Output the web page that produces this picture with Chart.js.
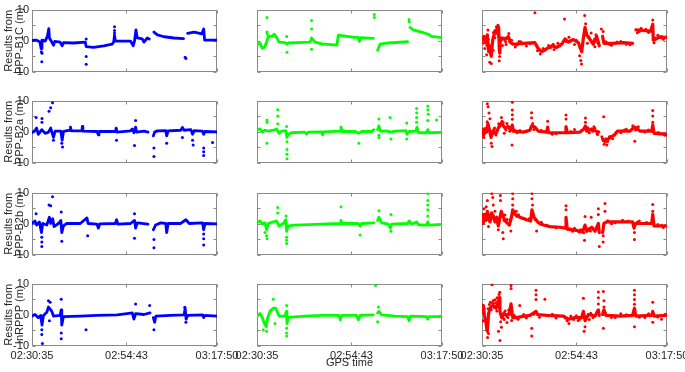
<!DOCTYPE html>
<html><head><meta charset="utf-8">
<script src="https://cdn.jsdelivr.net/npm/chart.js@4/dist/chart.umd.min.js"></script>
<style>
html,body{margin:0;padding:0;background:#fff;overflow:hidden;width:685px;height:372px;}
canvas{position:absolute;}
</style></head><body>
<script>
// ---- axis labels ----
const xTickLabels = ["02:30:35", "02:54:43", "03:17:50"];
const yTickValues = [-10, -5, 0, 5, 10];
const yTickLabels = ["-10", "", "0", "", "10"];
const rowNames = ["PPP-B1C", "PPP-B2a", "PPP-B2b", "InRPPP"];
const xTitle = "GPS time";
const seriesColors = ["#0000ff", "#00ff00", "#ff0000"];

// ---- data: x = % of session elapsed, y = error (m); null = data gap ----
// column 1 (blue)
const b1c_c1_line = [[0,0.1],[2.5,0.2],[4.3,-0.4],[4.9,-2.5],[5.4,0.2],[7.1,-0.1],[8.3,1.4],[9.1,3.9],[9.4,0.9],[10.7,-0.4],[11.6,-1.4],[12.3,-0.2],[15.2,-0.4],[16.3,-1.6],[17,-0.6],[22.5,-0.7],[28.8,-0.4],[29.3,-1.9],[33.3,-2.1],[38.8,-1.6],[43.3,-1.1],[44.2,-0.3],[44.6,1.8],[45.1,-0.1],[53.3,-0.1],[54.7,-1.6],[55.4,-0.1],[56.2,3.5],[56.9,0.9],[59.6,0.6],[60.5,-0.4],[62.3,0.9],[63.4,0.6],null,[65.9,2.8],[67.8,1.9],[71.4,1.3],[76.8,0.9],[81.9,0.7],null,[84.1,2.4],[87.7,2.8],[91.7,2.2],[92.8,3.8],[93.3,0.2],[100,0.2]];
const b1c_c1_pts = [[5.3,-6.7],[5.1,-3.5],[5.4,-4],[29.3,0.6],[29.3,-5],[29.3,-7.5],[44.6,4.5],[44.6,3.3],[44.6,2.5],[82.8,-5.3],[83.2,-5.7]];
const b2a_c1_line = [[0,-0.3],[1.6,0.4],[2.5,1.2],[3.4,-0.8],[5.3,0.7],[7.1,-0.5],[8.9,-0.1],[10.1,1.2],[11.6,-1.8],[12.5,0.2],[15.6,0.2],[16.3,-2.7],[17,0.1],[20.7,0.5],[20.8,1.5],[21.2,0.3],[27,0.3],[27.2,1.7],[27.5,0.2],[35.1,0.1],[35.9,-1],[36.2,0.1],[45.1,0.1],[45.5,1.2],[46,-0.1],[53.3,0.3],[54.2,0.9],[55.1,-0.3],[56,1.5],[56.5,-0.1],[60.5,0.2],[62.7,-0.1],null,[65.6,-1.3],[66.3,-0.1],[67.8,0.3],[72.3,0.4],[72.8,-1.3],[73.6,0.3],[80.4,0.5],[81.3,1.4],[82.2,0.5],[85.9,0.7],[86.8,-0.8],[87.7,0.4],[92.2,0.2],[92.8,-0.8],[93.5,0.1],[100,0]];
const b2a_c1_pts = [[2.2,4.6],[5.4,4.3],[5.4,3.1],[9.2,6.6],[10.1,7.7],[11.1,9.3],[11.6,-2.7],[16.1,-3.7],[16.5,-4.9],[45.7,-2.7],[55.4,-4.4],[56,3.6],[65.9,-5.2],[65.9,-7.9],[72.8,-3.7],[81.3,-1.8],[86.8,-2.7],[87.1,-4.2],[92.8,-5.2],[92.8,-6.4],[92.8,-7.6],[97.6,-3.4]];
const b2b_c1_line = [[0,0.1],[1.6,0.9],[2.5,-0.4],[4,0.6],[5.1,-2.8],[5.8,0.1],[8,-0.4],[9.4,2.1],[10.1,0.1],[11.2,1.6],[11.9,-0.9],[14.3,0.1],[15.6,1.1],[16.1,-2.8],[17,-0.7],[18.8,0.1],[26.1,0.1],[29.7,1.9],[30.3,0.1],[35.1,-0.1],[35.9,-1.4],[36.6,0],[45.1,0.1],[45.7,1.3],[46.4,-0.1],[53.3,0.1],[55.4,1.1],[56,-1.4],[56.9,0.3],[62.7,-0.1],null,[65.6,-1.9],[66.8,-0.4],[69.6,0.3],[72.3,0.1],[72.8,-2.8],[73.6,0.1],[80.4,0.1],[83.2,1.3],[85,0.1],[92.2,0.3],[92.8,-1.9],[93.5,0.1],[100,0]];
const b2b_c1_pts = [[2.2,3.2],[5.3,-4.3],[5.3,-5.8],[5.3,-7.3],[9.2,6],[10.1,5.8],[11.1,8.7],[15.8,3.8],[16.1,-5.6],[30.1,-3.8],[55.4,3.2],[55.4,-4.6],[65.9,-5],[65.9,-7.7],[92.8,-3.3],[92.8,-4.8],[92.8,-6.8]];
const inr_c1_line = [[0,-0.4],[1.6,0.1],[3.4,-0.9],[4.7,-0.2],[5.4,-3.3],[6.2,-0.2],[8,0.8],[8.9,2.5],[9.8,1.8],[10.7,1.1],[11.6,-0.4],[15.2,-0.2],[15.8,1.6],[16.1,-3.3],[17,-0.6],[26.1,-0.4],[35.1,-0.2],[46,0],[51.4,0.4],[54.2,0.6],[55.1,-1.4],[56,0.4],[60.5,0.1],[63.8,0.6],null,[65.6,-0.9],[66.3,-2.4],[67,-0.4],[75,-0.2],[82.2,0],[82.8,2.1],[83.3,-1.4],[84.1,-0.2],[92.2,0],[92.8,-0.9],[93.5,-0.2],[100,-0.4]];
const inr_c1_pts = [[5.3,-4.8],[5.3,-6.3],[5.6,-9.2],[8.9,4.5],[9.8,4],[9.4,-1.9],[15.8,5],[15.8,-5.8],[15.8,-7.7],[29.2,-4.8],[56,3.5],[63.6,3],[65.9,-4.8],[82.6,2.4],[83.2,-2.4]];
// column 2 (green)
const b1c_c2_line = [[0,-1.1],[1.6,-0.8],[2.9,-2.4],[4,-2.1],[5.2,-0.4],[6.1,1.4],[7.9,1.4],[9.4,2.1],[10.6,1.1],[11.9,-0.4],[15.1,-0.6],[16.2,-1.1],[16.9,-0.7],[28.6,-0.4],[29.5,0.9],[31.4,-0.4],[35,-1],[43.1,-1.4],[44,1.8],[47.6,1.5],[53,1.1],[54.8,1.1],[55.3,-0.2],[56.2,1],[62.9,0.8],null,[65.2,-3],[66.5,-1.1],[71,-0.7],[81.4,-0.3],null,[82.7,4.3],[84.5,3.5],[89,2.8],[92.6,2.1],[94.4,1.4],[100,1]];
const b1c_c2_pts = [[5.4,7.5],[5.4,2.8],[5.6,2.2],[16,1.4],[16.2,-3.7],[29.5,6.5],[29.5,3.8],[29.5,-2.7],[63.4,8.4],[63.4,7.5],[82.2,6.8],[82.3,6.1]];
const b2a_c2_line = [[0,0.7],[1.6,0.9],[2.9,-0.1],[4.3,0.5],[6.1,0.2],[8.8,0.5],[10.6,0.9],[11.9,-0.5],[13.3,0.2],[15.5,0.4],[16.2,-1.8],[16.9,-0.8],[18.7,-0.3],[25.9,-0.1],[26.8,-0.7],[27.7,-0.1],[34.9,0],[35.5,-1],[36,0],[44.9,0.2],[45.4,1.5],[46.1,0.1],[53,0.1],[55.1,-0.5],[56.6,0.1],[62,0.1],[63.1,0.7],null,[65.2,0.7],[65.9,1.9],[66.7,0.2],[70.1,0.3],[72.4,-0.1],[74.6,0.2],[80.4,0.4],[81.1,-0.8],[82.2,0.1],[85.8,0.2],[86.5,1.5],[87.2,-0.3],[91.7,-0.3],[92.3,0.7],[93,-0.3],[100,-0.2]];
const b2a_c2_pts = [[5.4,3.8],[5.4,3.1],[5.4,-3.7],[11.2,7.1],[11.2,5.1],[11.2,2.6],[16,1.7],[16.2,-3.2],[16.2,-5.7],[16.2,-7.2],[16.2,-8.6],[55.1,-3.7],[65.9,4.1],[65.9,-1.1],[65.9,-1.8],[71.9,4.6],[72.4,-2.3],[80.9,2.8],[80.9,-2.3],[86.3,7.5],[86.3,6.1],[86.3,4.6],[86.3,3.1],[92.3,8.3],[92.3,7.1],[92.6,5.6],[92.3,3.6],[97.1,3.8]];
const b2b_c2_line = [[0,0.5],[1.6,0.9],[2.9,-0.1],[4.3,0.3],[5.2,-1.9],[6.1,0.1],[8.8,0.6],[10.6,0.9],[11.9,-0.7],[14.2,0.1],[15.5,1.3],[16,-2.4],[16.9,-0.7],[20.5,-0.4],[31.4,-0.2],[35,-0.1],[44.9,0.1],[45.4,1.1],[46.1,0.1],[54.8,0.1],[55.7,-0.7],[56.6,0.1],[63.1,0.3],null,[65.2,1.1],[65.9,2.1],[67.4,0.3],[71,-0.1],[72.1,-1.4],[72.8,-0.1],[81.4,0.1],[82.2,0.9],[83.6,-0.1],[86.3,0.6],[87.2,-0.3],[91.7,-0.4],[92.3,0.6],[93,-0.4],[100,-0.2]];
const b2b_c2_pts = [[4.3,-2.8],[5.2,-3.8],[5.4,-4.8],[11.2,5.2],[11.2,3.5],[15.7,2.5],[16,-4.3],[16,-5.3],[16,-6.3],[45.4,5.5],[55.7,-3.6],[65.9,4.2],[72.4,3],[72.4,-2.4],[92.3,9.7],[92.3,7.5],[92.3,6],[92.3,4.5],[92.3,2.5]];
const inr_c2_line = [[0,-0.4],[1.6,0.4],[2.9,-0.9],[4,-2.8],[4.9,-3.8],[5.8,-0.9],[7,1.1],[8.8,2.1],[10.1,2.1],[11.2,0.6],[11.9,-0.4],[15.1,-0.4],[15.9,1.1],[16.2,-2.8],[16.9,-0.8],[25.9,-0.4],[35,-0.2],[44.3,-0.2],[45,-1.6],[45.8,-0.2],[53.9,-0.2],[54.8,-1.6],[55.7,-0.2],[62.9,0],null,[65.2,0.6],[65.9,1.1],[67.4,0],[74.6,-0.4],[81.4,-0.6],[82.2,-1.9],[82.9,-0.4],[91.7,-0.6],[92.3,-1.4],[93,-0.6],[100,-0.6]];
const inr_c2_pts = [[3.4,-4.8],[5.2,-5.3],[8.8,5],[9.7,-2.8],[16,3],[16,-4.3],[16,-5.8],[16,-6.8],[64.1,9.4],[65.6,2.5],[65.2,-2.2]];
// column 3 (red)
const b1c_c3_line = [[0,0.2],[1.1,1.4],[2.2,-0.6],[2.9,1.9],[3.6,-3.5],[4.3,-1.6],[5,-5],[5.8,0.4],[6.5,1.9],[7.6,3.3],[8.3,2.4],[9,4.3],[9.4,-3.5],[9.7,-0.6],[10.6,0.9],[12.4,0.4],[14.2,1.4],[15.5,-0.6],[17,-1.1],[22.3,-0.8],[28.6,-0.6],[30.4,-2.5],[32.3,-3.5],[35,-2.5],[37.7,-1.6],[40.4,-2.1],[43.1,-1.1],[44.9,0.6],[46.7,-0.4],[49.4,0.4],[52.1,-0.6],[53.9,-3.5],[54.8,0.9],[55.7,4.3],[56.6,1.9],[58.4,0.4],[60.2,-1.1],[62,1.4],[63.4,-1.6],null,[65.2,1.4],[65.9,-0.8],[71,-0.8],[76.4,-0.6],[81.4,-0.8],null,[83.2,3.5],[87.2,3.3],[91.1,3.1],[92.3,5.3],[92.6,0.2],[94.1,0.6],[96.2,1.2],[100,1.1]];
const b1c_c3_pts = [[1.5,-2.5],[2.5,-4.5],[3.2,3.5],[4.2,-6.9],[5,-7.3],[6,-3],[7,1],[7.8,4.5],[8.6,5],[9.3,-6.4],[9.5,-5],[9.6,-4],[11,-1.5],[13,-1.2],[14.5,2.3],[16,0.2],[18,-2],[20,-0.2],[24,-1.7],[28.6,9],[30,-3.2],[31.5,-4.2],[33,-2.5],[36,-1.5],[39,-2.8],[41,-0.8],[44.6,7],[47,1.1],[50,-1.2],[52.8,-4.8],[53.4,-6.3],[53.8,-7.4],[55.3,3.5],[55.5,8.1],[56,5.5],[57,-0.8],[59,2.5],[61,-1.9],[62.5,-0.3],[64.5,3.8],[65.5,3],[70,-1.4],[75,-0.2],[80,-1.3],[84,2.6],[86,4],[90,2.7],[92.3,6.7],[93,-0.6],[95,1.8],[98,0.5],
  [0.8,-0.8],[1.8,0.9],[2.6,-1.5],[3.4,0.5],[3.9,-2.3],[4.6,-4.2],[5.5,-1],[6.2,2.7],[6.9,3.2],[7.3,2.4],[8,3.8],[8.9,1.5],[10.2,0.2],[11.8,0.9],[12.8,-0.3],[13.8,0.8],[15,-0.2],[19,-1.3],[21,-0.3],[26,-0.9],[29.5,-1.5],[31,-2.9],[34,-3],[37,-2.2],[38.5,-1.1],[42,-1.7],[45.5,-0.2],[48,0],[51,0.2],[53,-2.2],[54.3,-1],[56.3,2.6],[57.8,1.2],[59.6,-0.3],[60.8,0.5],[61.6,1.9],[62.8,-0.8],[67,-0.3],[69,-1.2],[73,-0.4],[78,-1.1],[85,3],[88.5,3.7],[91.5,3.6],[94,0.9],[97,1.4]];
const b2a_c3_line = [[0,0.2],[0.7,-1.3],[1.6,0.9],[2.5,-0.1],[3.2,2.6],[4,0.7],[4.9,-1.8],[5.8,0.2],[7.6,-0.5],[8.8,1.2],[10.1,2.6],[11.2,2.2],[12.4,1.2],[14.2,1.7],[15.5,0.5],[16.4,2.2],[16.9,0.2],[22.3,-0.1],[25.9,0.5],[26.8,1.9],[28.6,1.5],[30.5,0.2],[34.9,-0.1],[35.5,1.5],[36,-0.3],[44.9,-0.3],[45.4,1.7],[46.1,-0.3],[53,-0.1],[55.1,0.9],[55.9,1.9],[56.6,0.2],[59.3,0.9],[61.6,0.2],[63.1,-0.1],null,[65.2,-2.3],[66.5,-3.2],[68.3,-2.3],[70.1,-1.5],[71.9,-0.8],[73.2,0.2],[80,0.2],[82.2,1.5],[83.6,1.2],[85.4,0.2],[91.7,0.2],[92.3,2.2],[93,-0.5],[100,-0.8]];
const b2a_c3_pts = [[1,-1.8],[2.8,3.2],[2.9,9],[3.3,8],[3.8,6],[4.3,4.2],[5,-3.7],[5.4,-4.7],[6.8,1.2],[7.5,-1],[9,2.6],[10.5,4.6],[11.5,3],[12,-0.5],[13.5,2.7],[15,0.2],[16.2,-4.2],[16.4,9.5],[16.4,7],[16.4,5.5],[16.4,4],[19,-0.3],[26.8,6.1],[26.8,4.5],[28,0.7],[35.5,3.4],[38,-0.8],[45.4,5.4],[45.4,4.1],[50,0.7],[55.9,4.4],[55.9,3.1],[58,-0.3],[60.5,1.6],[62.5,-0.9],[65.8,4.8],[66,-4],[67.5,-4.2],[69,-1.5],[75,-0.3],[78,0.8],[82.6,-3],[88,-0.1],[92.3,6.8],[92.3,5.1],[92.3,3.1],[95,-0.2],[98,-0.6],
  [0.4,0.9],[1.3,-0.6],[2.1,1.1],[3.6,1.5],[4.6,0.1],[6,-0.6],[6.5,0.8],[8.2,0.6],[9.6,1.8],[10.8,3.4],[12.9,0.6],[14.6,1.1],[15.8,1.5],[17.5,0.6],[20.5,0.4],[24,0.2],[27.4,2.7],[29.5,0.9],[32,0.5],[40,-0.6],[48,0.1],[54,0.4],[56.3,0.9],[57.2,1.3],[59.8,0.2],[61,1.1],[62.2,-0.6],[64.8,-1.6],[65.5,-2.8],[66.9,-2.2],[67.9,-3.1],[68.8,-1.8],[70.6,-2.2],[71.4,-1.1],[72.5,-0.2],[77,0.6],[81.5,1.9],[83,0.6],[84.5,1.6],[90,0.6],[96,-0.4],[99,-1.1]];
const b2b_c3_line = [[0,1.6],[0.7,0.1],[1.4,3],[2.2,1.1],[2.9,4],[3.6,1.6],[4.3,0.6],[5.2,3.5],[6.1,2.5],[7,0.6],[7.9,2.1],[8.8,-0.7],[9.7,2.1],[10.4,4],[11.5,2.1],[13,0.6],[14.8,-0.4],[15.9,2.1],[16.6,4.5],[17.8,3],[20.5,2.1],[24.1,1.3],[26.3,0.9],[27,4.5],[28.1,2.1],[30.5,0.3],[33.2,-0.4],[36.8,-0.9],[42.2,-1.1],[44.9,-1.4],[45.4,2.1],[46.1,-1.7],[51.2,-2.1],[53.9,-2.6],[54.8,-1.9],[55.7,-0.4],[56.6,-2.4],[59.3,-1.1],[61.1,-2.4],[62.9,0.1],[63.4,-2.8],null,[65.2,-2.8],[65.9,0.1],[67.4,0.6],[74.6,0.6],[81.4,0.6],[82.2,-1.4],[82.9,0.1],[87.2,0.1],[91.7,0.1],[92.3,3],[93,-0.7],[100,-0.7]];
const b2b_c3_pts = [[0.5,3],[1.1,4.8],[2.3,5.5],[2.9,7.5],[3.5,-0.9],[5.3,9.7],[5.8,8.4],[6.1,6],[7,4],[8.8,-1.9],[9.9,9.1],[10,7.5],[11.2,-2.8],[11.5,-4.8],[12.5,1],[15.6,-2.3],[16.6,9.7],[16.6,8],[16.6,6],[18.5,4],[22,1.8],[27,9.7],[27,8],[27.3,6],[29.5,-2.3],[32,0.5],[45.4,5.8],[45.4,4.5],[50,-1.4],[55.4,-5.3],[55.7,2.3],[58,-2],[59,2.1],[62.9,4.8],[62.9,3],[63.4,-7.3],[65.5,-3.8],[65.5,-5.8],[66.5,6.5],[66.5,4],[70,0],[76,1.1],[82.4,-2.8],[82.4,-5],[85,0.9],[92.3,6.2],[92.3,4],[92.3,2],[95,-0.2],[98,-1.2],
  [0.3,2.4],[1,1.2],[1.8,2.2],[2.5,2.8],[3.2,3.1],[4,2.4],[4.7,1.2],[5.6,2.8],[6.5,1.5],[7.4,1.4],[8.3,1.5],[9.2,0.5],[10.8,3.1],[11.9,1.1],[12.4,2.8],[13.6,1.4],[14.3,0.1],[15.3,1.2],[17.2,3.7],[18.8,2.4],[19.7,2.9],[22.8,1.7],[25.5,1.6],[27.6,3],[28.8,1.4],[31.5,-0.1],[35,-0.5],[40,-1.3],[47.5,-1.6],[49,-2.4],[52.5,-2.6],[53.3,-1.9],[55,-2.9],[57.4,-1.6],[58.6,-2.3],[60.2,-1.6],[61.8,-1.6],[62.4,-0.8],[68,1],[72,0.3],[79,0.9],[84,0.6],[89,0.4],[97,-0.5]];
const inr_c3_line = [[0,0.6],[0.7,3],[1.4,-0.4],[2.2,-2.8],[2.9,-5.3],[3.6,0.6],[4.7,2.5],[6.1,3],[7.6,2.1],[8.6,3.5],[9.4,5.5],[9.7,1.1],[10.6,-0.9],[11.9,0.6],[13.3,-0.4],[14.8,0.6],[15.7,3.5],[16.6,-0.9],[18.7,-0.9],[21.4,-0.6],[25.9,-0.2],[29.2,1.1],[29.9,0.1],[35,-0.2],[44,-0.4],[46.7,-1.4],[50.3,-0.9],[53.9,-0.9],[54.8,1.1],[55.7,-1.9],[57.5,0.1],[61.1,-0.4],[62.9,1.6],[63.4,-0.2],null,[65.2,0.1],[65.9,1.6],[67,-0.2],[74.6,-0.4],[81.4,-0.2],[82.4,2.1],[83.1,-0.4],[91.7,-0.2],[92.3,1.1],[93,-0.4],[100,-0.2]];
const inr_c3_pts = [[0.5,-2],[1.2,2],[2.5,-4.8],[3,-7.3],[3.5,-6],[4.5,4],[5.4,9.6],[6,4.5],[7,4.8],[8.2,5.5],[9.2,6.5],[9.6,7.2],[8.9,-5.3],[9.7,-8.2],[10.5,-4],[12,-1.5],[13.5,-2.5],[15.7,9.4],[15.7,8.4],[16,-1.8],[20.4,3],[24,-1],[26.9,-6.8],[26.9,-4.3],[29.2,7.9],[29.2,6.4],[29.2,4.9],[34,5],[40,-1],[47,-2.8],[52,-1.8],[54.8,5.3],[55.2,-5.3],[55.7,-3.8],[58,-1.5],[62.9,7.3],[62.9,5.5],[62.9,3.5],[65.6,7.5],[65.9,4.5],[65.9,2.5],[65.6,-4.3],[70,-0.9],[75,0.3],[82.4,7.9],[82.4,6.4],[82.4,4.9],[82.4,3.4],[82.4,-3.8],[88,-0.9],[92.3,4],[92.3,-2.4],[97,-1.4],
  [0.3,1.9],[0.9,0.9],[1.7,-1.4],[2.3,-3.8],[2.7,-1.5],[3.3,1.9],[4,3.3],[5,1.6],[5.7,3.7],[6.6,2.3],[7.3,3.8],[8,1.2],[8.4,4.3],[9,2.4],[10.1,-2.2],[11.2,0.1],[11.5,-1],[12.5,1.2],[14,-0.9],[14.4,1.5],[15.2,0.2],[17.5,-0.2],[19.5,-1.4],[22.5,0.1],[28,0.2],[31,-0.8],[38,0.2],[45,-1],[46,-1.9],[48,-0.4],[49.5,-1.5],[51,-0.3],[52.8,-1.4],[54.2,-0.1],[56.5,-1],[58.8,0.5],[60,-0.9],[62,0.6],[66.5,0.8],[72,-0.9],[78,0],[85,-0.8],[90,0.3],[95,-0.7],[99,0.2]];

const panelLines = [[b1c_c1_line,b1c_c2_line,b1c_c3_line],[b2a_c1_line,b2a_c2_line,b2a_c3_line],[b2b_c1_line,b2b_c2_line,b2b_c3_line],[inr_c1_line,inr_c2_line,inr_c3_line]];
const panelPts = [[b1c_c1_pts,b1c_c2_pts,b1c_c3_pts],[b2a_c1_pts,b2a_c2_pts,b2a_c3_pts],[b2b_c1_pts,b2b_c2_pts,b2b_c3_pts],[inr_c1_pts,inr_c2_pts,inr_c3_pts]];

// ---- tick positions from the time labels ----
function toSec(s){const p=s.split(':').map(Number);return p[0]*3600+p[1]*60+p[2];}
const tStart=toSec(xTickLabels[0]), tEnd=toSec(xTickLabels[xTickLabels.length-1]);
const xTickPos = xTickLabels.map(s=>(toSec(s)-tStart)/(tEnd-tStart)*100);

// ---- layout ----
const plotLefts=[32,257,482], plotW=185;
const plotTops=[4,95,187,278], plotH=68;
const AXW=32, PADR=30, PADT=4, AXH=28;
const FONT='"Liberation Sans", Arial, Helvetica, sans-serif';
const TXT='#262626', BOX='#8a8a8a';

const boxPlugin={id:'box',beforeDatasetsDraw(chart){
  const {ctx,chartArea:a,scales:{x,y}}=chart;
  ctx.save();ctx.strokeStyle=BOX;ctx.lineWidth=1;
  const L=Math.round(a.left)+0.5,R=Math.round(a.right)-0.5,T=Math.round(a.top)+0.5,B=Math.round(a.bottom)-0.5;
  ctx.strokeRect(L,T,R-L,B-T);
  ctx.beginPath();
  yTickValues.forEach(v=>{const p=Math.round(y.getPixelForValue(v))+0.5;ctx.moveTo(L,p);ctx.lineTo(L+3,p);ctx.moveTo(R,p);ctx.lineTo(R-3,p);});
  xTickPos.forEach(v=>{const p=Math.round(x.getPixelForValue(v))+0.5;ctx.moveTo(p,T);ctx.lineTo(p,T+3);ctx.moveTo(p,B);ctx.lineTo(p,B-3);});
  ctx.stroke();ctx.restore();
}};

function toXY(arr){const out=[];let px=0;arr.forEach(p=>{if(p){out.push({x:p[0],y:p[1]});px=p[0];}else out.push({x:px,y:null});});return out;}

for(let r=0;r<4;r++){for(let c=0;c<3;c++){
  const cv=document.createElement('canvas');
  const W=AXW+plotW+PADR, H=PADT+plotH+AXH;
  cv.width=W;cv.height=H;
  cv.style.left=(plotLefts[c]-AXW)+'px';cv.style.top=(plotTops[r]-PADT)+'px';
  cv.style.width=W+'px';cv.style.height=H+'px';
  document.body.appendChild(cv);
  const col=seriesColors[c];
  const showXLab=(r===3), showYLab=(c===0);
  new Chart(cv,{
    type:'scatter',
    data:{datasets:[
      {data:toXY(panelLines[r][c]),showLine:true,spanGaps:false,borderColor:col,backgroundColor:col,borderWidth:c===2?3.2:2.8,pointRadius:0,borderCapStyle:'round',borderJoinStyle:'round'},
      {data:toXY(panelPts[r][c]),showLine:false,backgroundColor:col,borderWidth:0,pointRadius:1.5}
    ]},
    options:{
      responsive:false,animation:false,devicePixelRatio:1,
      layout:{padding:{top:PADT,right:PADR,left:0,bottom:0}},
      plugins:{legend:{display:false},tooltip:{enabled:false}},
      scales:{
        x:{type:'linear',min:0,max:100,
          afterFit:s=>{s.height=AXH;},
          afterBuildTicks:s=>{s.ticks=xTickPos.map(v=>({value:v}));},
          grid:{display:false,drawTicks:false},border:{display:false},
          ticks:{autoSkip:false,maxRotation:0,padding:3,color:TXT,font:{family:FONT,size:11},
            callback:(v,i)=>showXLab?xTickLabels[i]:''},
          title:{display:(r===3&&c===1),text:xTitle,color:TXT,font:{family:FONT,size:11},padding:{top:0,bottom:4}}
        },
        y:{type:'linear',min:-10,max:10,
          afterFit:s=>{s.width=AXW;},
          afterBuildTicks:s=>{s.ticks=yTickValues.map(v=>({value:v}));},
          grid:{display:false,drawTicks:false},border:{display:false},
          ticks:{autoSkip:false,padding:3,color:TXT,font:{family:FONT,size:11},
            callback:(v,i)=>showYLab?yTickLabels[i]:''},
          title:{display:showYLab,text:['Results from',rowNames[r]+' (m)'],color:TXT,font:{family:FONT,size:11,lineHeight:1.0},padding:{top:3,bottom:0}}
        }
      }
    },
    plugins:[boxPlugin]
  });
}}
</script>
</body></html>
